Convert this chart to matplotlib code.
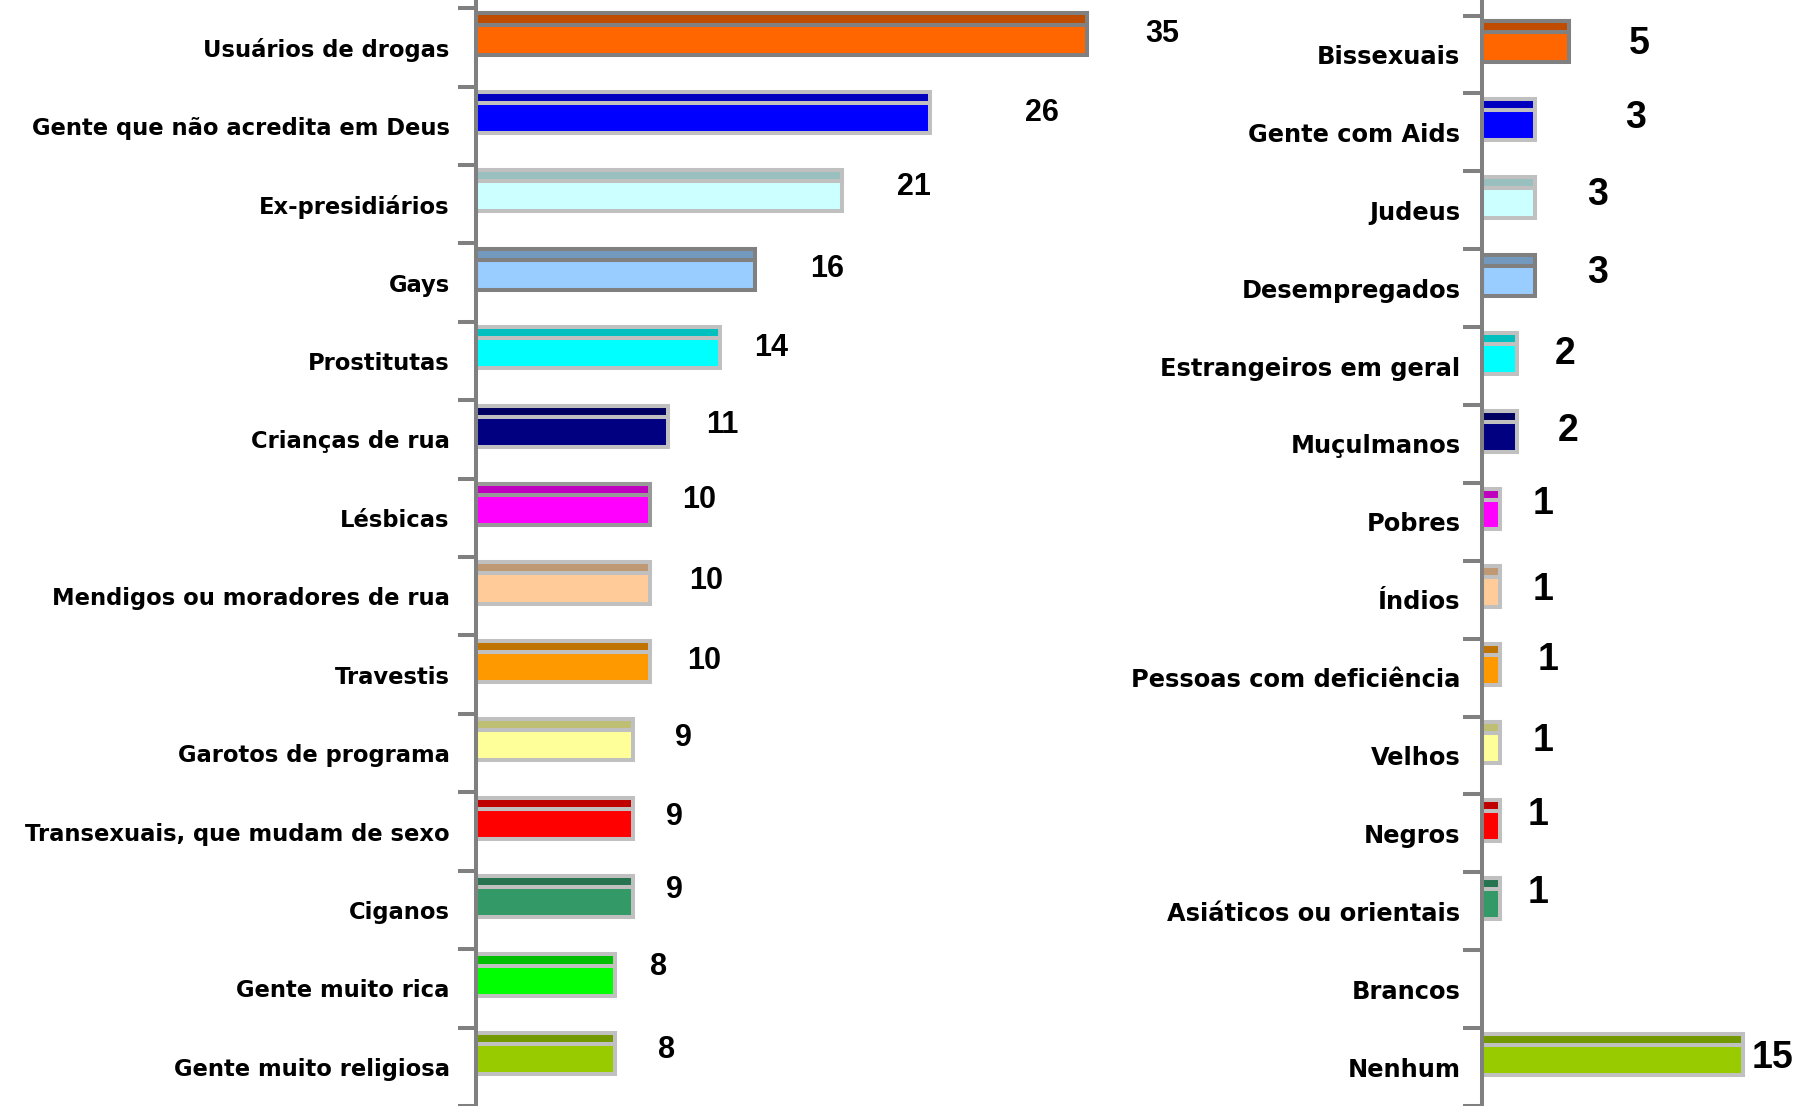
import matplotlib
matplotlib.use("Agg")
import matplotlib.pyplot as plt
import numpy as np

# dados: percentual de rejeição por grupo
cats_left = [
    "Usuários de drogas", "Gente que não acredita em Deus", "Ex-presidiários",
    "Gays", "Prostitutas", "Crianças de rua", "Lésbicas",
    "Mendigos ou moradores de rua", "Travestis", "Garotos de programa",
    "Transexuais, que mudam de sexo", "Ciganos", "Gente muito rica",
    "Gente muito religiosa",
]
vals_left = [35, 26, 21, 16, 14, 11, 10, 10, 10, 9, 9, 9, 8, 8]

cats_right = [
    "Bissexuais", "Gente com Aids", "Judeus", "Desempregados",
    "Estrangeiros em geral", "Muçulmanos", "Pobres", "Índios",
    "Pessoas com deficiência", "Velhos", "Negros", "Asiáticos ou orientais",
    "Brancos", "Nenhum",
]
vals_right = [5, 3, 3, 3, 2, 2, 1, 1, 1, 1, 1, 1, 0, 15]

# cores (paleta do Excel): cor principal, faixa escura do topo, borda
main_colors = ["#FF6600", "#0000FF", "#CCFFFF", "#99CCFF", "#00FFFF", "#000080",
               "#FF00FF", "#FFCC99", "#FF9900", "#FFFF99", "#FF0000", "#339966",
               "#00FF00", "#99CC00"]
dark_colors = ["#BF4C00", "#0000BF", "#99BFBF", "#7399BF", "#00BFBF", "#000060",
               "#BF00BF", "#BF9973", "#BF7300", "#BFBF73", "#BF0000", "#267350",
               "#00BF00", "#739900"]
border_left = ["#808080", "#C0C0C0", "#C0C0C0", "#808080", "#C0C0C0", "#C0C0C0",
               "#999999", "#C0C0C0", "#C0C0C0", "#C0C0C0", "#C0C0C0", "#C0C0C0",
               "#C0C0C0", "#C0C0C0"]
border_right = ["#808080", "#C0C0C0", "#C0C0C0", "#808080", "#C0C0C0", "#C0C0C0",
                "#C0C0C0", "#C0C0C0", "#C0C0C0", "#C0C0C0", "#C0C0C0", "#C0C0C0",
                "#C0C0C0", "#C0C0C0"]

# deslocamento dos rótulos de valor (colocados à mão no original)
dx_left = [4.3, 6.4, 4.1, 4.1, 2.9, 3.1, 2.8, 3.2, 3.1, 2.9, 2.4, 2.4, 2.5, 2.95]
dy_left = [-0.17, -0.16, -0.22, -0.17, -0.17, -0.18, -0.23, -0.19, -0.18, -0.19,
           -0.19, -0.25, -0.27, -0.21]
dx_right = [4.0, 5.8, 3.6, 3.6, 2.75, 2.9, 2.5, 2.5, 2.8, 2.5, 2.2, 2.2, 0, 1.7]
dy_right = [-0.14, -0.19, -0.2, -0.2, -0.16, -0.17, -0.23, -0.13, -0.23, -0.18,
            -0.23, -0.24, 0, -0.11]

GRAY = "#808080"
LW = 2.9

fig = plt.figure(figsize=(18.1, 11.06), dpi=100)
ax1 = fig.add_axes([0.2628, 0.0, 0.3845, 1.0])
ax2 = fig.add_axes([0.8190, 0.0, 0.1730, 1.0])


def draw_panel(ax, cats, vals, borders, dxs, dys, ylim, xmax, bar_off,
               lab_size, lab_pad, val_size, tick_len):
    n = len(cats)
    pos = np.arange(n)
    h = 0.525
    strip = 0.27 * h
    for i in range(n):
        if vals[i] <= 0:
            continue
        yc = pos[i] + bar_off
        ax.barh(yc, vals[i], height=h, color=main_colors[i],
                edgecolor=borders[i], linewidth=LW, zorder=3)
        ax.barh(yc - h / 2 + strip / 2, vals[i], height=strip,
                color=dark_colors[i], edgecolor=borders[i], linewidth=LW,
                zorder=3)
        ax.text(vals[i] + dxs[i], pos[i] + dys[i], str(vals[i]),
                ha="center", va="center", fontsize=val_size,
                fontweight="bold", family="Liberation Sans", color="black")
    ax.set_xlim(0, xmax)
    ax.set_ylim(*ylim)
    ax.set_yticks(pos)
    ax.set_yticklabels(cats, fontsize=lab_size, fontweight="bold",
                       family="DejaVu Sans")
    ax.set_yticks(np.arange(-0.5, n, 1), minor=True)
    ax.tick_params(axis="y", which="major", length=0, pad=lab_pad)
    ax.tick_params(axis="y", which="minor", length=tick_len, width=LW,
                   color=GRAY, direction="out")
    ax.set_xticks([])
    for s in ["top", "right", "bottom"]:
        ax.spines[s].set_visible(False)
    ax.spines["left"].set_color(GRAY)
    ax.spines["left"].set_linewidth(LW)
    ax.spines["left"].set_zorder(4)
    ax.patch.set_alpha(0)


draw_panel(ax1, cats_left, vals_left, border_left, dx_left, dy_left,
           (13.273, -0.604), 39.85, -0.17, 16.3, 18.7, 22, 13)
draw_panel(ax2, cats_right, vals_right, border_right, dx_right, dy_right,
           (13.319, -0.699), 18, -0.165, 17.4, 15.8, 27, 14)

fig.savefig("out.png", dpi=100, facecolor="white")
